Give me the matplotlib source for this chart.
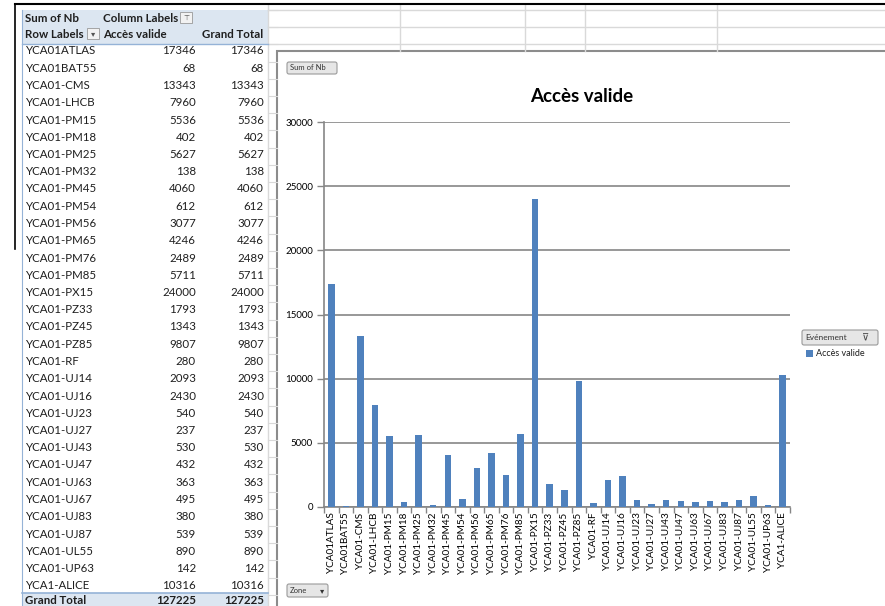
import numpy as np
import matplotlib
matplotlib.use('Agg')
import matplotlib.pyplot as plt
from matplotlib.patches import Rectangle, FancyBboxPatch

plt.rcParams['font.family'] = ['Lato', 'DejaVu Sans']

# === données du tableau croisé ===
zones = ['YCA01ATLAS', 'YCA01BAT55', 'YCA01-CMS', 'YCA01-LHCB', 'YCA01-PM15',
         'YCA01-PM18', 'YCA01-PM25', 'YCA01-PM32', 'YCA01-PM45', 'YCA01-PM54',
         'YCA01-PM56', 'YCA01-PM65', 'YCA01-PM76', 'YCA01-PM85', 'YCA01-PX15',
         'YCA01-PZ33', 'YCA01-PZ45', 'YCA01-PZ85', 'YCA01-RF', 'YCA01-UJ14',
         'YCA01-UJ16', 'YCA01-UJ23', 'YCA01-UJ27', 'YCA01-UJ43', 'YCA01-UJ47',
         'YCA01-UJ63', 'YCA01-UJ67', 'YCA01-UJ83', 'YCA01-UJ87', 'YCA01-UL55',
         'YCA01-UP63', 'YCA1-ALICE']
acces_valide = [17346, 68, 13343, 7960, 5536, 402, 5627, 138, 4060, 612,
                3077, 4246, 2489, 5711, 24000, 1793, 1343, 9807, 280, 2093,
                2430, 540, 237, 530, 432, 363, 495, 380, 539, 890, 142, 10316]
grand_total = 127225
y_ticks = [0, 5000, 10000, 15000, 20000, 25000, 30000]

W, H = 885, 606
fig = plt.figure(figsize=(W / 100, H / 100), dpi=100)

# calque "feuille" en pixels
bg = fig.add_axes([0, 0, 1, 1])
bg.set_xlim(0, W)
bg.set_ylim(H, 0)
bg.axis('off')

grid_c = '#d9d9d9'
blue_bg = '#dce6f1'
blue_line = '#95b3d7'

# quadrillage Excel à droite du tableau
for yy in [10, 27, 44]:
    bg.plot([268, W], [yy, yy], color=grid_c, lw=1)
for xx in [400, 525, 585, 717]:
    bg.plot([xx, xx], [4, 51], color=grid_c, lw=1)
for k in range(36):
    yy = 10 + k * 17.2
    bg.plot([268, 277], [yy, yy], color=grid_c, lw=0.8)
bg.plot([268, 268], [4, H], color=grid_c, lw=1)

# bordures de capture
bg.plot([15, W], [4, 4], color='black', lw=1.5)
bg.plot([15, 15], [4, 249], color='black', lw=1.2)

# tableau croisé
bg.add_patch(Rectangle((22, 10), 246, 34, color=blue_bg, lw=0))
bg.plot([22, 268], [43.5, 43.5], color=blue_line, lw=1)
bg.plot([22, 22], [10, 606], color=blue_line, lw=0.8)
fs = 8.3
bg.text(25, 18, 'Sum of Nb', fontsize=fs, fontweight='bold', va='center', color='#1f1f1f')
bg.text(103, 18, 'Column Labels', fontsize=fs, fontweight='bold', va='center', color='#1f1f1f')
bg.add_patch(Rectangle((180, 12), 12, 11, facecolor='#f2f2f2', edgecolor='#999999', lw=0.6))
bg.text(186, 17.5, '⊤', fontsize=5, ha='center', va='center', color='#555555')
bg.text(25, 34, 'Row Labels', fontsize=fs, fontweight='bold', va='center', color='#1f1f1f')
bg.add_patch(Rectangle((87, 28), 12, 11, facecolor='#f2f2f2', edgecolor='#999999', lw=0.6))
bg.text(93, 33.5, '▾', fontsize=6, ha='center', va='center', color='#555555')
bg.text(103, 34, 'Accès valide', fontsize=fs, fontweight='bold', va='center', color='#1f1f1f')
bg.text(263, 34, 'Grand Total', fontsize=fs, fontweight='bold', va='center', ha='right', color='#1f1f1f')

row_h = 17.25
for i, (z, v) in enumerate(zip(zones, acces_valide)):
    yy = 51 + i * row_h
    bg.text(25, yy, z, fontsize=fs, va='center', color='#1f1f1f')
    bg.text(196, yy, str(v), fontsize=fs, va='center', ha='right', color='#1f1f1f')
    bg.text(264, yy, str(v), fontsize=fs, va='center', ha='right', color='#1f1f1f')

y_gt = 51 + len(zones) * row_h - 2
bg.add_patch(Rectangle((22, y_gt - 8), 246, 20, color=blue_bg, lw=0))
bg.plot([22, 268], [y_gt - 8, y_gt - 8], color=blue_line, lw=1.2)
bg.text(25, y_gt, 'Grand Total', fontsize=fs, fontweight='bold', va='center', color='#1f1f1f')
bg.text(196, y_gt, str(grand_total), fontsize=fs, fontweight='bold', va='center', ha='right', color='#1f1f1f')
bg.text(264, y_gt, str(grand_total), fontsize=fs, fontweight='bold', va='center', ha='right', color='#1f1f1f')

# cadre du graphique
bg.add_patch(Rectangle((277, 51), 620, 570, facecolor='white', edgecolor='#8c8c8c', lw=1.5))


def button(x0, y0, w, h, label, fsz):
    bg.add_patch(FancyBboxPatch((x0, y0), w, h, boxstyle='round,pad=0,rounding_size=2',
                                facecolor='#e6e6e6', edgecolor='#9a9a9a', lw=0.8))
    bg.text(x0 + 3, y0 + h / 2, label, fontsize=fsz, va='center', color='#333333')


button(287, 62, 50, 12, 'Sum of Nb', 5.5)
button(287, 584, 41, 13, 'Zone', 5.5)
bg.text(322, 590.5, '▾', fontsize=6, ha='center', va='center', color='#333333')
button(802, 330, 76, 15, 'Evénement', 6)
bg.text(866, 337.5, '⊽', fontsize=7, ha='center', va='center', color='#444444')

bar_c = '#4f81bd'
bg.add_patch(Rectangle((806, 350), 7, 7, color=bar_c, lw=0))
bg.text(816, 353.5, 'Accès valide', fontsize=6.5, va='center', color='#1f1f1f')

bg.text(582, 97, 'Accès valide', fontsize=13.5, fontweight='bold', ha='center', va='center', color='black')

# histogramme
x0, x1, ytop, y0 = 324, 790, 122, 507
ax = fig.add_axes([x0 / W, (H - y0) / H, (x1 - x0) / W, (y0 - ytop) / H])
ax.set_facecolor('none')
x = np.arange(len(zones))
ax.bar(x, acces_valide, width=0.45, color=bar_c, zorder=3)
ax.set_xlim(-0.5, len(zones) - 0.5)
ax.set_ylim(0, 30000)
ax.set_yticks(y_ticks)
ax.set_yticklabels([str(t) for t in y_ticks], fontsize=7)
ax.yaxis.grid(True, color='#868686', lw=1.2, zorder=0)
ax.set_xticks(x)
ax.set_xticklabels(zones, rotation=90, fontsize=7.2)
ax.set_xticks(np.arange(len(zones) + 1) - 0.5, minor=True)
ax.tick_params(axis='x', which='major', length=0, pad=4)
ax.tick_params(axis='x', which='minor', length=4, color='#868686', width=1)
ax.tick_params(axis='y', length=5, color='#868686', width=1, pad=3)
for s in ['top', 'right']:
    ax.spines[s].set_visible(False)
for s in ['left', 'bottom']:
    ax.spines[s].set_color('#868686')
    ax.spines[s].set_linewidth(1.2)

fig.savefig('out.png', dpi=100)
